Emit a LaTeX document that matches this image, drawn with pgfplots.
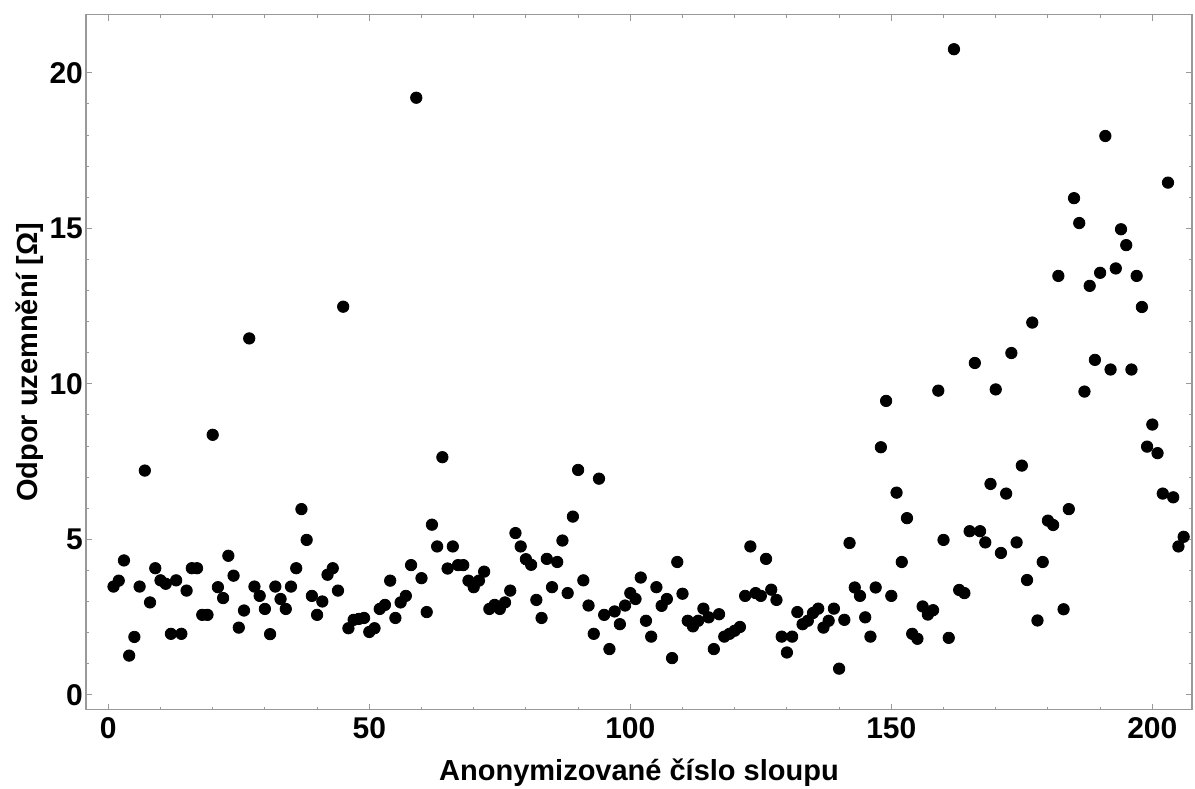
\documentclass[border=0pt]{standalone}
\usepackage{fontspec}
\setmainfont{Liberation Sans}
\usepackage{pgfplots}
\pgfplotsset{compat=1.18}

\begin{document}
\begin{tikzpicture}
\begin{axis}[
  scale only axis,
  width=553pt, height=347.5pt,
  xmin=-4.27, xmax=207.6,
  ymin=-0.48, ymax=21.87,
  xtick={0,50,100,150,200},
  ytick={0,5,10,15,20},
  minor x tick num=4,
  minor y tick num=4,
  tick align=inside,
  major tick length=3pt,
  minor tick length=1.6pt,
  axis line style={draw=black!40, line width=0.6pt},
  tick style={draw=black!40, line width=0.5pt},
  /pgf/number format/assume math mode=true,
  ticklabel style={font=\bfseries\fontsize{15}{17}\selectfont, text=black},
  xticklabel style={yshift=-0.5pt},
  yticklabel style={xshift=2pt},
  xlabel={Anonymizované číslo sloupu},
  ylabel={Odpor uzemnění [Ω]},
  label style={font=\bfseries\fontsize{14.5}{17}\selectfont},
  xlabel style={at={(axis description cs:0.5,-0.0906)}, anchor=center},
  ylabel style={at={(axis description cs:-0.0506,0.5)}, anchor=center, rotate=0},
]
% grounding resistance of each pole: pole index, resistance in ohms
\addplot[only marks, mark=*, mark size=2.85pt, mark options={draw=black, fill=black}]
  table[row sep=\\] {
x y\\
1 3.48\\ 2 3.67\\ 3 4.32\\ 4 1.26\\ 5 1.86\\ 6 3.48\\ 7 7.21\\ 8 2.97\\ 9 4.07\\ 10 3.68\\
11 3.57\\ 12 1.96\\ 13 3.68\\ 14 1.96\\ 15 3.35\\ 16 4.07\\ 17 4.07\\ 18 2.57\\ 19 2.57\\ 20 8.36\\
21 3.46\\ 22 3.11\\ 23 4.47\\ 24 3.83\\ 25 2.16\\ 26 2.71\\ 27 11.46\\ 28 3.48\\ 29 3.18\\ 30 2.76\\
31 1.95\\ 32 3.48\\ 33 3.08\\ 34 2.76\\ 35 3.48\\ 36 4.07\\ 37 5.97\\ 38 4.98\\ 39 3.18\\ 40 2.57\\
41 3.00\\ 42 3.86\\ 43 4.07\\ 44 3.35\\ 45 12.48\\ 46 2.14\\ 47 2.41\\ 48 2.44\\ 49 2.47\\ 50 2.02\\
51 2.14\\ 52 2.76\\ 53 2.89\\ 54 3.67\\ 55 2.47\\ 56 2.97\\ 57 3.18\\ 58 4.17\\ 59 19.2\\ 60 3.75\\
61 2.66\\ 62 5.47\\ 63 4.77\\ 64 7.64\\ 65 4.06\\ 66 4.77\\ 67 4.17\\ 68 4.17\\ 69 3.67\\ 70 3.46\\
71 3.67\\ 72 3.96\\ 73 2.76\\ 74 2.89\\ 75 2.76\\ 76 2.97\\ 77 3.35\\ 78 5.20\\ 79 4.77\\ 80 4.36\\
81 4.18\\ 82 3.05\\ 83 2.47\\ 84 4.37\\ 85 3.46\\ 86 4.27\\ 87 4.96\\ 88 3.27\\ 89 5.73\\ 90 7.23\\
91 3.68\\ 92 2.87\\ 93 1.96\\ 94 6.95\\ 95 2.57\\ 96 1.47\\ 97 2.68\\ 98 2.27\\ 99 2.87\\ 100 3.27\\
101 3.08\\ 102 3.77\\ 103 2.38\\ 104 1.87\\ 105 3.46\\ 106 2.86\\ 107 3.08\\ 108 1.18\\ 109 4.27\\ 110 3.25\\
111 2.38\\ 112 2.20\\ 113 2.38\\ 114 2.77\\ 115 2.49\\ 116 1.47\\ 117 2.59\\ 118 1.87\\ 119 1.96\\ 120 2.06\\
121 2.18\\ 122 3.18\\ 123 4.77\\ 124 3.27\\ 125 3.18\\ 126 4.37\\ 127 3.38\\ 128 3.05\\ 129 1.87\\ 130 1.36\\
131 1.87\\ 132 2.66\\ 133 2.27\\ 134 2.38\\ 135 2.63\\ 136 2.77\\ 137 2.16\\ 138 2.38\\ 139 2.77\\ 140 0.84\\
141 2.41\\ 142 4.88\\ 143 3.45\\ 144 3.18\\ 145 2.49\\ 146 1.87\\ 147 3.45\\ 148 7.96\\ 149 9.45\\ 150 3.18\\
151 6.50\\ 152 4.27\\ 153 5.68\\ 154 1.96\\ 155 1.80\\ 156 2.84\\ 157 2.58\\ 158 2.72\\ 159 9.78\\ 160 4.98\\
161 1.83\\ 162 20.76\\ 163 3.37\\ 164 3.27\\ 165 5.26\\ 166 10.67\\ 167 5.26\\ 168 4.90\\ 169 6.78\\ 170 9.82\\
171 4.56\\ 172 6.47\\ 173 10.99\\ 174 4.90\\ 175 7.37\\ 176 3.69\\ 177 11.97\\ 178 2.39\\ 179 4.27\\ 180 5.60\\
181 5.46\\ 182 13.47\\ 183 2.75\\ 184 5.97\\ 185 15.97\\ 186 15.17\\ 187 9.75\\ 188 13.15\\ 189 10.77\\ 190 13.57\\
191 17.97\\ 192 10.46\\ 193 13.71\\ 194 14.97\\ 195 14.46\\ 196 10.46\\ 197 13.47\\ 198 12.47\\ 199 7.98\\ 200 8.69\\
201 7.77\\ 202 6.47\\ 203 16.47\\ 204 6.35\\ 205 4.77\\ 206 5.08\\
};
\end{axis}
% fixed page margins around the plot frame
\pgfresetboundingbox
\path ([xshift=-43pt,yshift=-39.5pt]current axis.south west) rectangle ([xshift=1.5pt,yshift=7.35pt]current axis.north east);
\end{tikzpicture}
\end{document}
